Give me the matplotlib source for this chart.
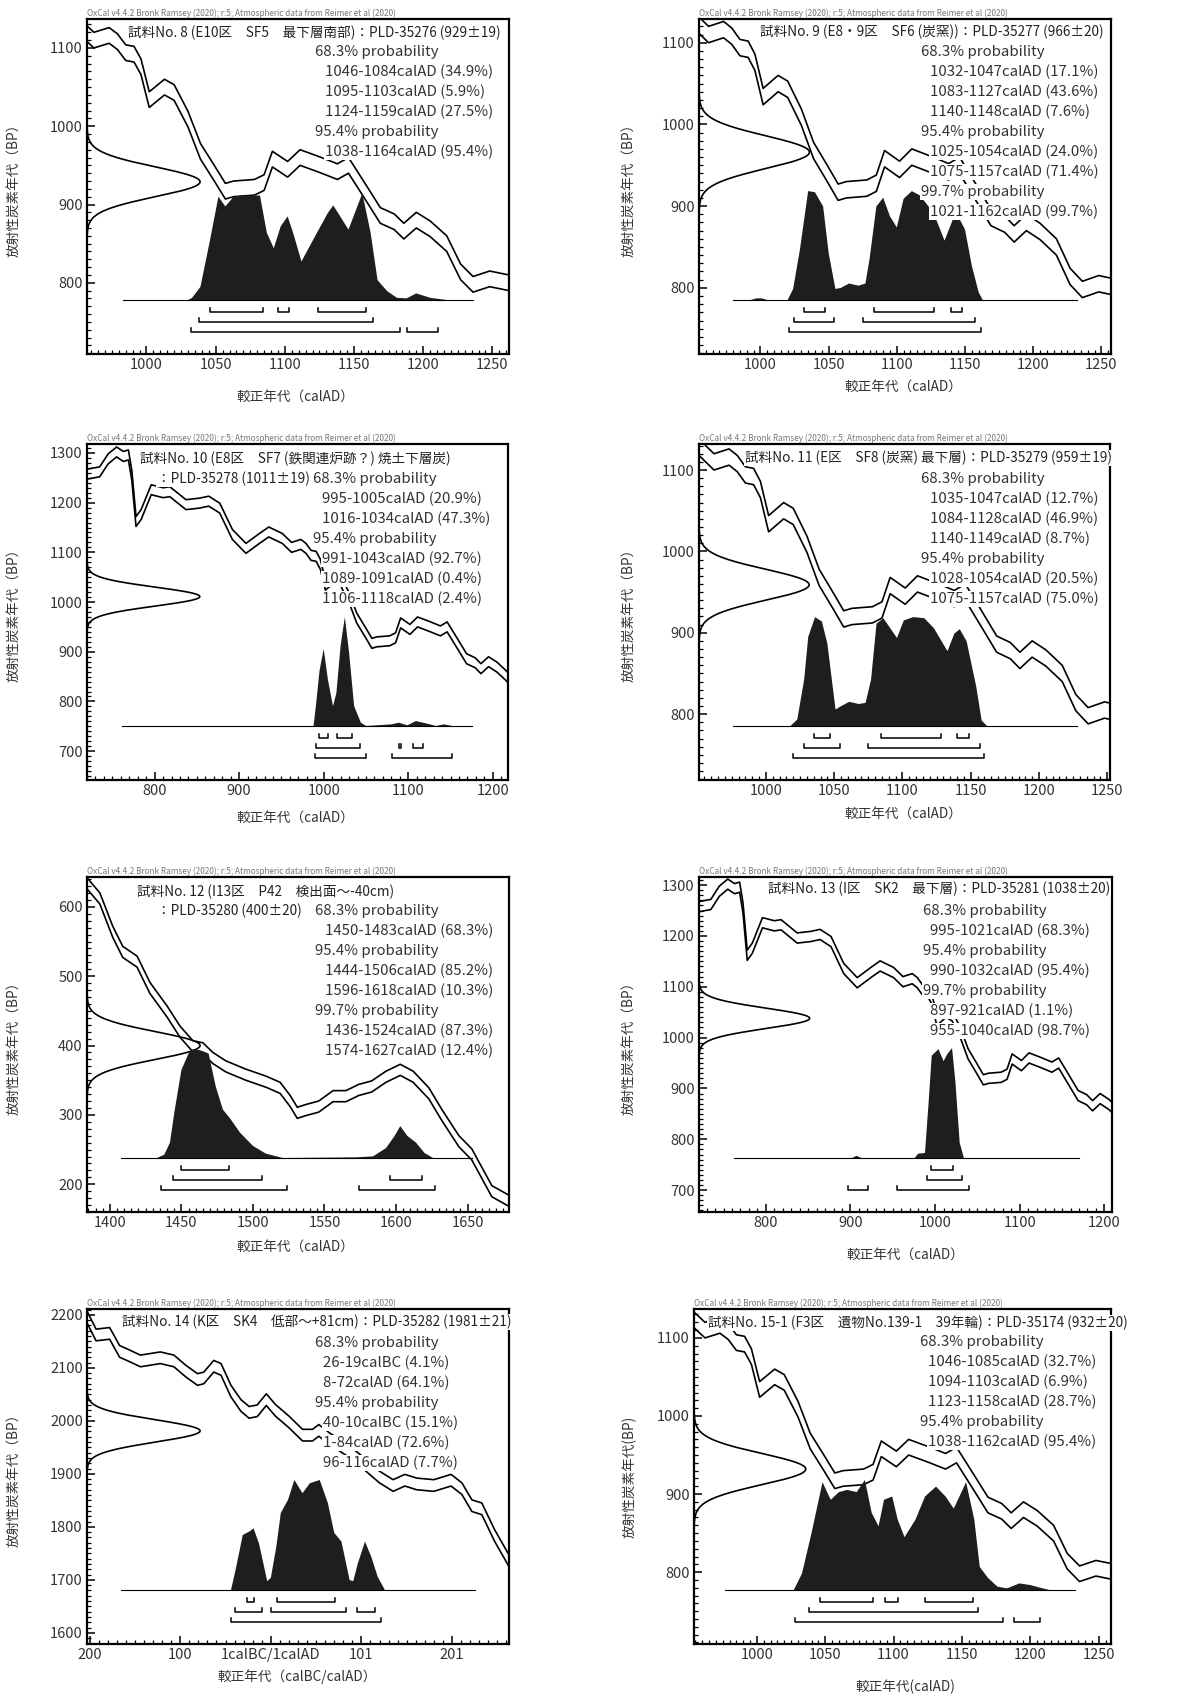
import numpy as np
import matplotlib
matplotlib.use('Agg')
import matplotlib.pyplot as plt
import matplotlib.transforms as mtransforms
from matplotlib.ticker import FixedLocator

plt.rcParams['font.family'] = ['Noto Sans CJK JP', 'DejaVu Sans']

W, H = 1204, 1697

# calibration curve (mean BP) AD 719-1262
cal_ad_year = [719, 735, 745, 755, 763, 769, 773, 778, 784, 796, 810, 818, 837, 853, 864, 877, 892, 908, 924, 935,
               951, 962, 973, 979, 985, 991, 996, 1002, 1013, 1020, 1030, 1039, 1049, 1057, 1063, 1078, 1085, 1091,
               1102, 1111, 1125, 1138, 1146, 1159, 1169, 1179, 1186, 1195, 1205, 1217, 1227, 1236, 1248, 1262]
cal_ad_bp = [1257, 1262, 1288, 1302, 1293, 1296, 1255, 1162, 1176, 1226, 1220, 1222, 1196, 1199, 1203, 1189, 1136,
             1108, 1128, 1141, 1128, 1110, 1116, 1108, 1094, 1092, 1076, 1034, 1050, 1043, 1009, 968, 940, 917, 920,
             922, 928, 958, 945, 960, 951, 942, 950, 914, 886, 878, 866, 880, 869, 850, 814, 798, 805, 800]
cal_ad_sd = 10

# AD 1384-1680
cal_late_year = [1384, 1393, 1402, 1409, 1419, 1428, 1440, 1449, 1458, 1465, 1472, 1481, 1495, 1509, 1519, 1526,
                 1531, 1537, 1546, 1556, 1565, 1574, 1583, 1593, 1603, 1612, 1623, 1632, 1644, 1653, 1667, 1680]
cal_late_bp = [634, 612, 564, 535, 521, 483, 449, 420, 399, 396, 382, 370, 358, 348, 339, 320, 303, 307, 312, 327,
               327, 336, 341, 355, 365, 355, 331, 300, 262, 243, 190, 175]
cal_late_sd = 8

# 200 BC - AD 265 (BC years as 1 - n)
cal_early_year = [-202, -192, -177, -166, -158, -143, -132, -121, -106, -93, -80, -73, -62, -54, -43, -32, -23, -14,
                  -4, 6, 21, 36, 47, 54, 66, 85, 100, 110, 121, 136, 149, 162, 181, 200, 212, 223, 234, 248, 265]
cal_early_bp = [2196, 2162, 2165, 2131, 2125, 2113, 2116, 2119, 2113, 2094, 2078, 2081, 2103, 2097, 2056, 2029, 2016,
                2019, 2040, 2020, 1998, 1973, 1973, 1982, 1966, 1945, 1925, 1910, 1894, 1878, 1888, 1881, 1878, 1888,
                1872, 1840, 1834, 1784, 1733]
cal_early_sd = 11

# radiocarbon ages (BP, error)
date8, date9, date10, date11 = (929, 19), (966, 20), (1011, 19), (959, 19)
date12, date13, date14, date15 = (400, 20), (1038, 20), (1981, 21), (932, 20)

# posterior distributions (relative probability)
post8_year = [1030, 1033, 1039, 1046, 1052, 1057, 1063, 1068, 1082, 1087, 1092, 1097, 1102, 1106, 1112, 1121, 1131,
              1135, 1140, 1146, 1156, 1162, 1167, 1174, 1181, 1188, 1195, 1205, 1217]
post8_p = [0, 0.02, 0.12, 0.55, 0.94, 0.85, 0.94, 0.95, 0.95, 0.61, 0.47, 0.67, 0.76, 0.61, 0.35, 0.56, 0.79, 0.86,
           0.76, 0.64, 0.97, 0.61, 0.18, 0.08, 0.02, 0.015, 0.06, 0.02, 0]
post9_year = [993, 997, 1001, 1005, 1020, 1024, 1029, 1035, 1040, 1046, 1050, 1055, 1059, 1065, 1072, 1077, 1080,
              1085, 1090, 1095, 1100, 1105, 1111, 1117, 1127, 1135, 1141, 1145, 1150, 1155, 1160, 1163]
post9_p = [0, 0.015, 0.015, 0, 0, 0.1, 0.46, 0.99, 0.98, 0.85, 0.43, 0.1, 0.11, 0.15, 0.13, 0.15, 0.37, 0.85, 0.93,
           0.76, 0.66, 0.92, 0.99, 0.95, 0.79, 0.54, 0.73, 0.76, 0.64, 0.31, 0.07, 0]
post10_year = [988, 991, 995, 1000, 1005, 1011, 1015, 1020, 1025, 1030, 1036, 1044, 1050, 1080, 1089, 1099, 1109,
               1121, 1133, 1142, 1152]
post10_p = [0, 0.2, 0.5, 0.70, 0.42, 0.18, 0.30, 0.73, 0.99, 0.67, 0.18, 0.03, 0, 0.015, 0.03, 0.006, 0.045, 0.024,
            0, 0.015, 0]
post11_year = [1018, 1023, 1028, 1031, 1036, 1041, 1045, 1048, 1051, 1055, 1061, 1068, 1073, 1077, 1081, 1086, 1091,
               1096, 1101, 1108, 1116, 1123, 1133, 1138, 1142, 1147, 1154, 1158, 1162]
post11_p = [0, 0.06, 0.42, 0.81, 0.99, 0.95, 0.75, 0.45, 0.15, 0.18, 0.22, 0.20, 0.21, 0.42, 0.93, 0.98, 0.89, 0.80,
            0.96, 0.99, 0.98, 0.89, 0.68, 0.84, 0.88, 0.77, 0.36, 0.05, 0]
post12_year = [1433, 1438, 1442, 1445, 1450, 1455, 1458, 1463, 1469, 1474, 1479, 1484, 1491, 1500, 1509, 1521, 1572,
               1584, 1593, 1599, 1603, 1608, 1614, 1620, 1626]
post12_p = [0, 0.03, 0.14, 0.41, 0.80, 0.95, 0.99, 0.98, 0.95, 0.65, 0.44, 0.36, 0.23, 0.11, 0.04, 0, 0.006, 0.015,
            0.09, 0.2, 0.29, 0.2, 0.14, 0.045, 0]
post13_year = [902, 907, 913, 976, 980, 988, 992, 996, 1004, 1010, 1014, 1020, 1024, 1029, 1034]
post13_p = [0, 0.02, 0, 0, 0.04, 0.045, 0.47, 0.93, 0.99, 0.88, 0.94, 1.0, 0.69, 0.14, 0]
post14_year = [-43, -38, -30, -23, -18, -12, -3, 1, 7, 12, 20, 27, 36, 44, 55, 64, 71, 79, 88, 92, 97, 105, 112,
               119, 127]
post14_p = [0, 0.18, 0.5, 0.53, 0.56, 0.42, 0.08, 0.11, 0.39, 0.7, 0.82, 1.0, 0.88, 0.97, 1.0, 0.79, 0.52, 0.44,
            0.09, 0.08, 0.24, 0.44, 0.3, 0.12, 0]
post15_year = [1027, 1033, 1040, 1048, 1054, 1060, 1066, 1073, 1079, 1084, 1089, 1093, 1099, 1103, 1108, 1116, 1123,
               1131, 1138, 1144, 1153, 1159, 1163, 1169, 1176, 1183, 1192, 1200, 1209, 1214]
post15_p = [0, 0.15, 0.52, 0.98, 0.82, 0.89, 0.91, 0.89, 1.0, 0.7, 0.58, 0.82, 0.85, 0.64, 0.48, 0.64, 0.85, 0.94,
            0.85, 0.74, 0.98, 0.64, 0.21, 0.11, 0.03, 0.015, 0.06, 0.045, 0.015, 0]

# extent of the probability baseline
base8, base9, base10, base11 = (983, 1236), (980, 1232), (761, 1176), (976, 1228)
base12, base13, base14, base15 = (1408, 1653), (762, 1170), (-164, 227), (977, 1233)

# calibrated ranges: 68.3%, 95.4%, 99.7%
r68_8, r95_8, r99_8 = [(1046, 1084), (1095, 1103), (1124, 1159)], [(1038, 1164)], [(1032, 1183), (1188, 1211)]
r68_9, r95_9, r99_9 = [(1032, 1047), (1083, 1127), (1140, 1148)], [(1025, 1054), (1075, 1157)], [(1021, 1162)]
r68_10, r95_10, r99_10 = [(995, 1005), (1016, 1034)], [(991, 1043), (1089, 1091), (1106, 1118)], [(990, 1050), (1081, 1152)]
r68_11, r95_11, r99_11 = [(1035, 1047), (1084, 1128), (1140, 1149)], [(1028, 1054), (1075, 1157)], [(1020, 1160)]
r68_12, r95_12, r99_12 = [(1450, 1483)], [(1444, 1506), (1596, 1618)], [(1436, 1524), (1574, 1627)]
r68_13, r95_13, r99_13 = [(995, 1021)], [(990, 1032)], [(897, 921), (955, 1040)]
r68_14, r95_14, r99_14 = [(-25, -18), (8, 72)], [(-39, -9), (1, 84), (96, 116)], [(-43, 123)]
r68_15, r95_15, r99_15 = [(1046, 1085), (1094, 1103), (1123, 1158)], [(1038, 1162)], [(1028, 1180), (1188, 1207)]

# texts
oxcal = "OxCal v4.4.2 Bronk Ramsey (2020); r:5; Atmospheric data from Reimer et al (2020)"
title8 = ["試料No. 8 (E10区　SF5　最下層南部)：PLD-35276 (929±19)"]
title9 = ["試料No. 9 (E8・9区　SF6 (炭窯))：PLD-35277 (966±20)"]
title10 = ["試料No. 10 (E8区　SF7 (鉄関連炉跡？) 焼土下層炭)", "：PLD-35278 (1011±19)"]
title11 = ["試料No. 11 (E区　SF8 (炭窯) 最下層)：PLD-35279 (959±19)"]
title12 = ["試料No. 12 (I13区　P42　検出面～-40cm)", "：PLD-35280 (400±20)"]
title13 = ["試料No. 13 (I区　SK2　最下層)：PLD-35281 (1038±20)"]
title14 = ["試料No. 14 (K区　SK4　低部～+81cm)：PLD-35282 (1981±21)"]
title15 = ["試料No. 15-1 (F3区　遺物No.139-1　39年輪)：PLD-35174 (932±20)"]

text8 = ["68.3% probability", "1046-1084calAD (34.9%)", "1095-1103calAD (5.9%)", "1124-1159calAD (27.5%)",
         "95.4% probability", "1038-1164calAD (95.4%)"]
text9 = ["68.3% probability", "1032-1047calAD (17.1%)", "1083-1127calAD (43.6%)", "1140-1148calAD (7.6%)",
         "95.4% probability", "1025-1054calAD (24.0%)", "1075-1157calAD (71.4%)", "99.7% probability",
         "1021-1162calAD (99.7%)"]
text10 = ["68.3% probability", "995-1005calAD (20.9%)", "1016-1034calAD (47.3%)", "95.4% probability",
          "991-1043calAD (92.7%)", "1089-1091calAD (0.4%)", "1106-1118calAD (2.4%)"]
text11 = ["68.3% probability", "1035-1047calAD (12.7%)", "1084-1128calAD (46.9%)", "1140-1149calAD (8.7%)",
          "95.4% probability", "1028-1054calAD (20.5%)", "1075-1157calAD (75.0%)"]
text12 = ["68.3% probability", "1450-1483calAD (68.3%)", "95.4% probability", "1444-1506calAD (85.2%)",
          "1596-1618calAD (10.3%)", "99.7% probability", "1436-1524calAD (87.3%)", "1574-1627calAD (12.4%)"]
text13 = ["68.3% probability", "995-1021calAD (68.3%)", "95.4% probability", "990-1032calAD (95.4%)",
          "99.7% probability", "897-921calAD (1.1%)", "955-1040calAD (98.7%)"]
text14 = ["68.3% probability", "26-19calBC (4.1%)", "8-72calAD (64.1%)", "95.4% probability",
          "40-10calBC (15.1%)", "1-84calAD (72.6%)", "96-116calAD (7.7%)"]
text15 = ["68.3% probability", "1046-1085calAD (32.7%)", "1094-1103calAD (6.9%)", "1123-1158calAD (28.7%)",
          "95.4% probability", "1038-1162calAD (95.4%)"]

ad_ticks = [1000, 1050, 1100, 1150, 1200, 1250]
ad2_ticks = [800, 900, 1000, 1100, 1200]
late_ticks = [1400, 1450, 1500, 1550, 1600, 1650]
early_ticks = [-199, -99, 1, 101, 201]
early_labels = ["200", "100", "1calBC/1calAD", "101", "201"]

ad_curve = (cal_ad_year, cal_ad_bp, cal_ad_sd)

panels = [
    dict(box=(87, 19, 509, 354), xlim=(957, 1262), ylim=(709, 1137), xt=ad_ticks, xm=5, yt=[800, 900, 1000, 1100],
         curve=ad_curve, date=date8, post=(post8_year, post8_p), base=base8, ranges=[r68_8, r95_8, r99_8],
         title=title8, tpos=[(0.097, 14)], lines=text8, lpos=(0.540, 0.564, 33),
         xlab=("較正年代（calAD）", 295, 397), ylab=("放射性炭素年代（BP）", 13)),
    dict(box=(699, 19, 1111, 354), xlim=(955, 1257), ylim=(719, 1129), xt=ad_ticks, xm=5, yt=[800, 900, 1000, 1100],
         curve=ad_curve, date=date9, post=(post9_year, post9_p), base=base9, ranges=[r68_9, r95_9, r99_9],
         title=title9, tpos=[(0.148, 13)], lines=text9, lpos=(0.539, 0.561, 33),
         xlab=("較正年代（calAD）", 903, 387), ylab=("放射性炭素年代（BP）", 628)),
    dict(box=(87, 444, 508, 780), xlim=(720, 1218), ylim=(642, 1318), xt=ad2_ticks, xm=10,
         yt=[700, 800, 900, 1000, 1100, 1200, 1300],
         curve=ad_curve, date=date10, post=(post10_year, post10_p), base=base10, ranges=[r68_10, r95_10, r99_10],
         title=title10, tpos=[(0.126, 15), (0.166, 35)], lines=text10, lpos=(0.537, 0.558, 35),
         xlab=("較正年代（calAD）", 295, 818), ylab=("放射性炭素年代（BP）", 13)),
    dict(box=(699, 444, 1110, 780), xlim=(951, 1252), ylim=(719, 1132), xt=ad_ticks, xm=5, yt=[800, 900, 1000, 1100],
         curve=ad_curve, date=date11, post=(post11_year, post11_p), base=base11, ranges=[r68_11, r95_11, r99_11],
         title=title11, tpos=[(0.112, 14)], lines=text11, lpos=(0.540, 0.561, 35),
         xlab=("較正年代（calAD）", 903, 814), ylab=("放射性炭素年代（BP）", 628)),
    dict(box=(87, 877, 509, 1212), xlim=(1384, 1679), ylim=(160, 643), xt=late_ticks, xm=5,
         yt=[200, 300, 400, 500, 600],
         curve=(cal_late_year, cal_late_bp, cal_late_sd), date=date12, post=(post12_year, post12_p), base=base12,
         ranges=[r68_12, r95_12, r99_12], title=title12, tpos=[(0.118, 15), (0.166, 34)], lines=text12,
         lpos=(0.540, 0.564, 34), xlab=("較正年代（calAD）", 295, 1247), ylab=("放射性炭素年代（BP）", 13)),
    dict(box=(699, 877, 1112, 1212), xlim=(721, 1209), ylim=(657, 1316), xt=ad2_ticks, xm=10,
         yt=[700, 800, 900, 1000, 1100, 1200, 1300],
         curve=ad_curve, date=date13, post=(post13_year, post13_p), base=base13, ranges=[r68_13, r95_13, r99_13],
         title=title13, tpos=[(0.167, 12)], lines=text13, lpos=(0.542, 0.559, 34),
         xlab=("較正年代（calAD）", 905, 1255), ylab=("放射性炭素年代（BP）", 628)),
    dict(box=(87, 1309, 509, 1644), xlim=(-202, 264), ylim=(1579, 2211), xt=early_ticks, xm=10,
         yt=[1600, 1700, 1800, 1900, 2000, 2100, 2200],
         curve=(cal_early_year, cal_early_bp, cal_early_sd), date=date14, post=(post14_year, post14_p), base=base14,
         ranges=[r68_14, r95_14, r99_14], title=title14, tpos=[(0.083, 13)], lines=text14, lpos=(0.540, 0.559, 34),
         xlab=("較正年代（calBC/calAD）", 297, 1677), ylab=("放射性炭素年代（BP）", 13)),
    dict(box=(694, 1309, 1111, 1644), xlim=(954, 1259), ylim=(708, 1137), xt=ad_ticks, xm=5,
         yt=[800, 900, 1000, 1100],
         curve=ad_curve, date=date15, post=(post15_year, post15_p), base=base15, ranges=[r68_15, r95_15, r99_15],
         title=title15, tpos=[(0.034, 14)], lines=text15, lpos=(0.542, 0.561, 33),
         xlab=("較正年代(calAD)", 905, 1687), ylab=("放射性炭素年代(BP)", 630)),
]

fig = plt.figure(figsize=(W / 100, H / 100), dpi=100)
white = dict(facecolor='white', edgecolor='none', pad=0.6)

for p in panels:
    L, T, R, B = p['box']
    wpx, hpx = R - L, B - T
    ax = fig.add_axes([L / W, 1 - B / H, wpx / W, hpx / H])
    ax.set_xlim(*p['xlim'])
    ax.set_ylim(*p['ylim'])
    xy_data_axes = mtransforms.blended_transform_factory(ax.transData, ax.transAxes)
    xy_axes_data = mtransforms.blended_transform_factory(ax.transAxes, ax.transData)

    # calibration curve band
    cy, cb, sd = p['curve']
    cb = np.array(cb)
    ax.plot(cy, cb + sd, color='black', lw=1.2, zorder=3)
    ax.plot(cy, cb - sd, color='black', lw=1.2, zorder=3)

    # radiocarbon date on the y axis
    mu, s = p['date']
    gy = np.linspace(mu - 5 * s, mu + 5 * s, 300)
    gx = 0.268 * np.exp(-0.5 * ((gy - mu) / s) ** 2)
    ax.plot(gx, gy, color='black', lw=1.2, transform=xy_axes_data, zorder=3)

    # posterior distribution
    base = 54 / hpx
    ph = 110 / hpx
    py, pp = p['post']
    ax.fill(py, base + ph * np.array(pp), color='#1e1e1e', lw=0, transform=xy_data_axes, zorder=4)
    ax.plot(p['base'], [base, base], color='black', lw=0.8, transform=xy_data_axes, zorder=4)

    # range brackets
    tick = 4 / hpx
    for row, rng in enumerate(p['ranges']):
        yb = base - (12 + 10 * row) / hpx
        for a, b in rng:
            ax.plot([a, a, b, b], [yb + tick, yb, yb, yb + tick], color='black', lw=1.1,
                    transform=xy_data_axes, zorder=4)

    # texts
    for t, (tx, ty) in zip(p['title'], p['tpos']):
        ax.text(tx, 1 - ty / hpx, t, transform=ax.transAxes, fontsize=9.8, va='center', ha='left',
                color='#222222', bbox=white, zorder=6)
    xp, xi, y0 = p['lpos']
    for i, line in enumerate(p['lines']):
        xx = xp if 'probability' in line else xi
        ax.text(xx, 1 - (y0 + 20 * i) / hpx, line, transform=ax.transAxes, fontsize=10.8, va='center', ha='left',
                color='#333333', bbox=white, zorder=6)
    ax.text(0, 1 + 6 / hpx, oxcal, transform=ax.transAxes, fontsize=5.9, va='center', ha='left', color='#777777')

    # axes styling
    ax.xaxis.set_major_locator(FixedLocator(p['xt']))
    if p['xt'] is early_ticks:
        ax.set_xticklabels(early_labels)
        ax.xaxis.set_minor_locator(FixedLocator(np.arange(-199, 265, p['xm'])))
    else:
        ax.xaxis.set_minor_locator(FixedLocator(np.arange(p['xlim'][0] // p['xm'] * p['xm'], p['xlim'][1] + 1, p['xm'])))
    ax.yaxis.set_major_locator(FixedLocator(p['yt']))
    ax.yaxis.set_minor_locator(FixedLocator(np.arange(p['ylim'][0] // 10 * 10, p['ylim'][1] + 1, 10)))
    ax.tick_params(which='both', direction='in', top=False, right=False, colors='black', labelcolor='#333333',
                   labelsize=10.5)
    ax.tick_params(which='major', length=6, width=1.1, pad=3)
    ax.tick_params(which='minor', length=3, width=0.9)
    for sp in ax.spines.values():
        sp.set_linewidth(1.6)

    lab, lx, ly = p['xlab']
    fig.text(lx / W, 1 - ly / H, lab, ha='center', va='center', fontsize=9.8, color='#333333')
    ylab, yx = p['ylab']
    fig.text(yx / W, 1 - (T + B) / 2 / H, ylab, ha='center', va='center', rotation=90, fontsize=9.8,
             color='#333333')

fig.savefig('out.png', dpi=100)
